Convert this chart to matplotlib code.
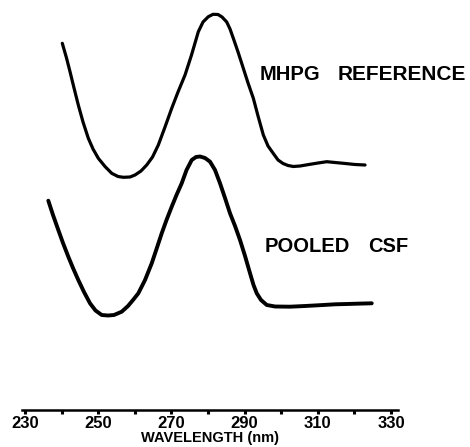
import matplotlib
matplotlib.use("Agg")
import matplotlib.pyplot as plt

# Wavelength (nm) and relative absorbance (offset traces, arbitrary units)
mhpg_wl = [240.19, 241.34, 242.30, 243.39, 244.56, 245.85, 247.30, 248.58, 250.03, 251.86,
           253.69, 255.41, 256.86, 258.69, 260.05, 261.69, 263.25, 264.84, 266.42, 268.25,
           270.08, 271.80, 273.72, 275.49, 277.35, 278.63, 280.08, 281.37, 282.73, 283.83,
           285.11, 286.01, 286.91, 288.20, 289.64, 290.93, 292.38, 293.66, 295.11, 296.39,
           297.84, 299.13, 300.49, 301.86, 303.31, 305.14, 307.87, 310.05, 312.43, 314.70,
           316.97, 320.16, 322.90]
mhpg_abs = [3.687, 3.54, 3.403, 3.24, 3.07, 2.90, 2.737, 2.63, 2.537, 2.455,
            2.387, 2.355, 2.347, 2.35, 2.37, 2.41, 2.47, 2.55, 2.67, 2.85,
            3.037, 3.20, 3.37, 3.57, 3.803, 3.90, 3.953, 3.977, 3.975, 3.95,
            3.90, 3.83, 3.737, 3.60, 3.437, 3.29, 3.137, 2.96, 2.77, 2.66,
            2.585, 2.52, 2.485, 2.465, 2.455, 2.46, 2.477, 2.49, 2.503, 2.495,
            2.487, 2.475, 2.47]

csf_wl = [236.37, 237.65, 239.10, 240.38, 241.83, 243.11, 244.56, 246.12, 247.76, 249.26,
          250.96, 252.68, 254.32, 256.42, 258.14, 259.51, 260.96, 262.79, 264.62, 265.93,
          267.35, 268.66, 270.08, 271.39, 272.81, 274.13, 275.55, 276.72, 277.81, 279.18,
          280.55, 281.91, 283.28, 284.64, 286.01, 287.38, 288.74, 290.11, 291.48, 292.43,
          293.31, 294.48, 296.04, 298.31, 302.40, 306.50, 311.50, 314.70, 317.90, 321.53,
          324.73]
csf_abs = [2.113, 1.97, 1.82, 1.69, 1.553, 1.44, 1.32, 1.20, 1.087, 1.015,
           0.97, 0.965, 0.97, 1.003, 1.06, 1.12, 1.187, 1.32, 1.487, 1.63,
           1.787, 1.92, 2.053, 2.17, 2.287, 2.42, 2.52, 2.55, 2.555, 2.54,
           2.503, 2.42, 2.287, 2.14, 1.987, 1.86, 1.72, 1.56, 1.387, 1.27,
           1.187, 1.12, 1.07, 1.055, 1.053, 1.06, 1.07, 1.077, 1.08, 1.084,
           1.087]

tick_major = [230, 250, 270, 290, 310, 330]
tick_minor = [240, 260, 280, 300, 320]
label_mhpg = ["MHPG", "REFERENCE"]
label_csf = ["POOLED", "CSF"]
xlabel = "WAVELENGTH (nm)"

W, H = 470, 447
fig = plt.figure(figsize=(W / 100, H / 100), dpi=100)
fig.patch.set_facecolor("white")

ax = fig.add_axes([22 / W, (H - 410) / H, 376 / W, 410 / H])
ax.set_facecolor("none")
ax.set_xlim(229.18, 331.9)
ax.set_ylim(0.02, 4.12)

ax.plot(mhpg_wl, mhpg_abs, color="black", lw=2.3, solid_joinstyle="round",
        solid_capstyle="round")
ax.plot(csf_wl, csf_abs, color="black", lw=2.8, solid_joinstyle="round",
        solid_capstyle="round")

for s in ["top", "right", "left"]:
    ax.spines[s].set_visible(False)
ax.spines["bottom"].set_linewidth(1.8)
ax.set_yticks([])

ax.set_xticks(tick_major)
ax.set_xticks(tick_minor, minor=True)
ax.set_xticklabels([str(t) for t in tick_major], fontsize=12,
                   fontfamily="Liberation Sans", fontweight="bold")
ax.tick_params(axis="x", which="both", direction="out", length=3, width=2.2,
               pad=1.5)
ax.set_xlabel(xlabel, fontsize=10.5, fontfamily="Liberation Sans",
              fontweight="bold", labelpad=0)

fkw = dict(fontsize=14.5, fontfamily="Liberation Sans", fontweight="bold",
           va="center", ha="left")
fig.text(260 / W, 1 - 75 / H, label_mhpg[0], **fkw)
fig.text(338 / W, 1 - 75 / H, label_mhpg[1], fontsize=15,
         fontfamily="Liberation Sans", fontweight="bold", va="center",
         ha="left")
fig.text(265 / W, 1 - 246 / H, label_csf[0], **fkw)
fig.text(368 / W, 1 - 246 / H, label_csf[1], **fkw)

fig.savefig("out.png", dpi=100, facecolor="white")
